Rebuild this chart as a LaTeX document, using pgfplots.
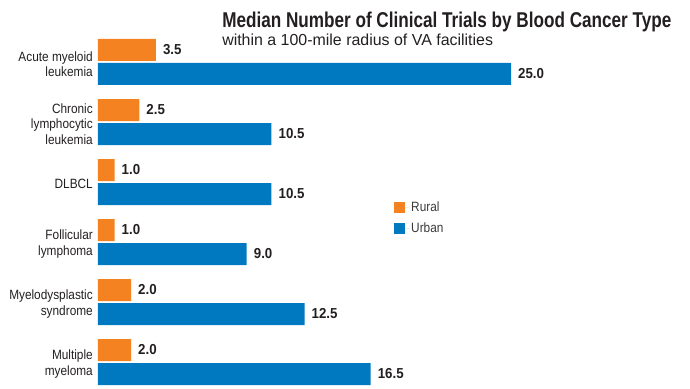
\documentclass[border=0pt]{standalone}
\usepackage{fontspec}
\setmainfont{Liberation Sans}[FakeStretch=0.88]
\newfontfamily\titlefont{Liberation Sans}[FakeStretch=0.80]
\newfontfamily\subfont{Liberation Sans}[FakeStretch=1.0]
\newfontfamily\numfont{Liberation Sans}[FakeStretch=0.92]
\usepackage{pgfplots}
\pgfplotsset{compat=1.18}
\definecolor{rural}{HTML}{F58220}
\definecolor{urban}{HTML}{0079C1}
\definecolor{txt}{HTML}{231F20}
\definecolor{leg}{HTML}{3A3A3A}
\begin{document}
\begin{tikzpicture}
\begin{axis}[
  x=16.52bp, y=60bp,
  xmin=0, xmax=35, ymin=-0.42, ymax=5.42,
  xbar, bar width=22bp,
  hide x axis,
  axis lines=left,
  axis line style={draw=none},
  major tick length=0pt,
  ytick={0,1,2,3,4,5},
  yticklabels={{Multiple\\myeloma},{Myelodysplastic\\syndrome},{Follicular\\lymphoma},{DLBCL},{Chronic\\lymphocytic\\leukemia},{Acute myeloid\\leukemia}},
  yticklabel style={align=right, font=\fontsize{13.5}{15.5}\selectfont, text=txt, inner sep=0pt, xshift=-5bp, yshift=-2bp},
  clip=false,
  nodes near coords={\pgfmathprintnumber[fixed,fixed zerofill,precision=1,assume math mode=true]{\pgfplotspointmeta}},
  nodes near coords style={font=\numfont\bfseries\fontsize{14.5}{14.5}\selectfont, text=txt, anchor=west, inner sep=0pt, xshift=7bp},
  point meta=x,
  legend style={at={(0.512,0.533)}, anchor=north west, draw=none, fill=none,
    font=\fontsize{13.5}{13.5}\selectfont, text=leg, row sep=8bp, inner sep=0pt,
    nodes={inner sep=1bp}},
  legend cell align=left,
  legend image code/.code={\path[#1,draw=none] (0bp,-5.5bp) rectangle (11bp,5.5bp);\path (0bp,0bp) -- (16bp,0bp);},
]
\addplot[fill=rural, draw=none, bar shift=12bp] coordinates {(3.5,5) (2.5,4) (1.0,3) (1.0,2) (2.0,1) (2.0,0)};
\addlegendentry{Rural}
\addplot[fill=urban, draw=none, bar shift=-12bp] coordinates {(25.0,5) (10.5,4) (10.5,3) (9.0,2) (12.5,1) (16.5,0)};
\addlegendentry{Urban}
\node[anchor=base west, inner sep=0pt, font=\titlefont\bfseries\fontsize{21.5}{21.5}\selectfont, text=txt] at (axis cs:7.51,5.574) {Median Number of Clinical Trials by Blood Cancer Type};
\node[anchor=base west, inner sep=0pt, font=\subfont\fontsize{16}{16}\selectfont, text=txt] at (axis cs:7.51,5.267) {within a 100-mile radius of VA facilities};
\coordinate (bbA) at (axis cs:-5.932,-0.4333);
\coordinate (bbB) at (axis cs:35.835,6.0333);
\end{axis}
\pgfresetboundingbox
\useasboundingbox (bbA) rectangle (bbB);
\end{tikzpicture}
\end{document}
